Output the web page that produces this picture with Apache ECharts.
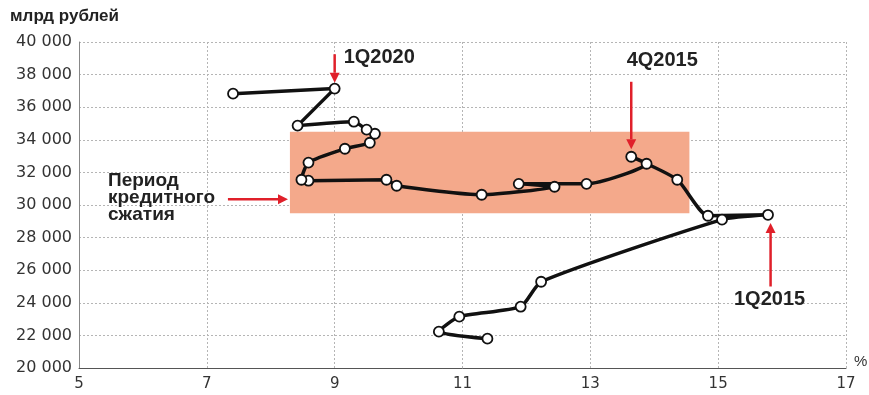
<!DOCTYPE html>
<html><head><meta charset="utf-8">
<script src="https://cdn.jsdelivr.net/npm/echarts@6/dist/echarts.min.js"></script>
<style>html,body{margin:0;padding:0;background:#fff}#c{width:869px;height:395px}</style>
</head><body><div id="c"></div>
<script>
// Rate, % (x) and credit volume, bn rubles (y), in chronological order
const rates = [11.39,10.63,10.95,11.91,12.23,15.06,15.78,14.84,14.36,13.64,13.88,12.94,11.88,12.44,11.30,9.97,9.81,8.59,8.48,8.59,9.16,9.55,9.63,9.50,9.30,8.42,9.00,7.41];
const credit = [21800,22230,23150,23760,25290,29100,29400,29340,31550,32960,32530,31300,31300,31120,30630,31180,31550,31490,31550,32600,33450,33820,34370,34620,35110,34870,37140,36830];
const xTicks = [5,7,9,11,13,15,17];
const yTicks = [20000,22000,24000,26000,28000,30000,32000,34000,36000,38000,40000];
const crunchX = [8.3,14.55];
const crunchY = [29500,34500];
const yUnit = 'млрд рублей';
const xUnit = '%';
const crunchText = 'Период\nкредитного\nсжатия';
// callouts: label, arrow from [x,y] to [x,y] in data units
const callouts = [
  {text:'1Q2020', from:[9.0,39250], to:[9.0,37500]},
  {text:'4Q2015', from:[13.64,37560], to:[13.64,33420]},
  {text:'1Q2015', from:[15.82,25000], to:[15.82,28900]},
  {text:'', from:[7.33,30350], to:[8.27,30350]}
];

const RED = '#e0202a';
const chart = echarts.init(document.getElementById('c'), null, {renderer:'canvas'});
const fmt = v => String(v).replace(/\B(?=(\d{3})+(?!\d))/g, ' ');
const FONT = 'Liberation Sans';
const AXFONT = 'DejaVu Sans';

chart.setOption({
  animation:false,
  backgroundColor:'#fff',
  grid:{left:79,right:23,top:42,bottom:27,containLabel:false},
  xAxis:{type:'value',min:xTicks[0],max:xTicks[xTicks.length-1],interval:2,
    axisLine:{show:true,onZero:false,lineStyle:{color:'#555',width:1}},
    axisTick:{show:false},
    axisLabel:{color:'#333',fontSize:15,fontFamily:AXFONT,margin:9},
    splitLine:{show:true,lineStyle:{color:'#b5b5b5',type:[2,2],width:1}}},
  yAxis:{type:'value',min:yTicks[0],max:yTicks[yTicks.length-1],interval:2000,
    axisLine:{show:true,lineStyle:{color:'#888',width:1}},
    axisTick:{show:false},
    axisLabel:{color:'#333',fontSize:16,fontFamily:AXFONT,margin:7,formatter:fmt},
    splitLine:{show:true,lineStyle:{color:'#b5b5b5',type:[2,2],width:1}}},
  series:[{
    type:'line',
    data:rates.map((r,i)=>[r,credit[i]]),
    smooth:0.2,
    lineStyle:{color:'#111',width:3.5},
    symbol:'circle',symbolSize:10,
    itemStyle:{color:'#fff',borderColor:'#111',borderWidth:1.8},
    z:5,
    markArea:{silent:true,itemStyle:{color:'#f4a98b',opacity:1},
      data:[[{coord:[crunchX[0],crunchY[0]]},{coord:[crunchX[1],crunchY[1]]}]]}
  }]
});

function px(p){return chart.convertToPixel({xAxisIndex:0,yAxisIndex:0},p);}
const g = [];
g.push({type:'text',left:10,top:8,style:{text:yUnit,font:'bold 17px '+FONT,fill:'#222'}});
const pct = px([17,20000]);
g.push({type:'text',x:pct[0]+8,y:pct[1]-14,style:{text:xUnit,font:'15px '+FONT,fill:'#333'}});
callouts.forEach((c,i)=>{
  const a = px(c.from), b = px(c.to);
  const dx=b[0]-a[0], dy=b[1]-a[1], L=Math.hypot(dx,dy), ux=dx/L, uy=dy/L;
  const hl=10, hw=5;
  const bx=b[0]-ux*hl, by=b[1]-uy*hl;
  g.push({type:'line',z:20,shape:{x1:a[0],y1:a[1],x2:bx,y2:by},style:{stroke:RED,lineWidth:2.5}});
  g.push({type:'polygon',z:20,shape:{points:[[b[0],b[1]],[bx-uy*hw,by+ux*hw],[bx+uy*hw,by-ux*hw]]},style:{fill:RED}});
});
const TF = 'bold 20px '+FONT;
const t0 = px(callouts[0].from);
g.push({type:'text',z:21,x:t0[0]+9,y:t0[1]+3,style:{text:callouts[0].text,font:TF,fill:'#222',textVerticalAlign:'middle'}});
const t1 = px(callouts[1].from);
g.push({type:'text',z:21,x:t1[0]+31,y:t1[1]-21,style:{text:callouts[1].text,font:TF,fill:'#222',textAlign:'center',textVerticalAlign:'middle'}});
const t2 = px(callouts[2].from);
g.push({type:'text',z:21,x:t2[0]-1,y:t2[1]+13,style:{text:callouts[2].text,font:TF,fill:'#222',textAlign:'center',textVerticalAlign:'middle'}});
const t3 = px(callouts[3].from);
g.push({type:'text',z:21,x:108,y:t3[1]-2,style:{text:crunchText,font:'bold 19px '+FONT,fill:'#222',lineHeight:17,textVerticalAlign:'middle'}});
chart.setOption({graphic:g});
</script></body></html>
